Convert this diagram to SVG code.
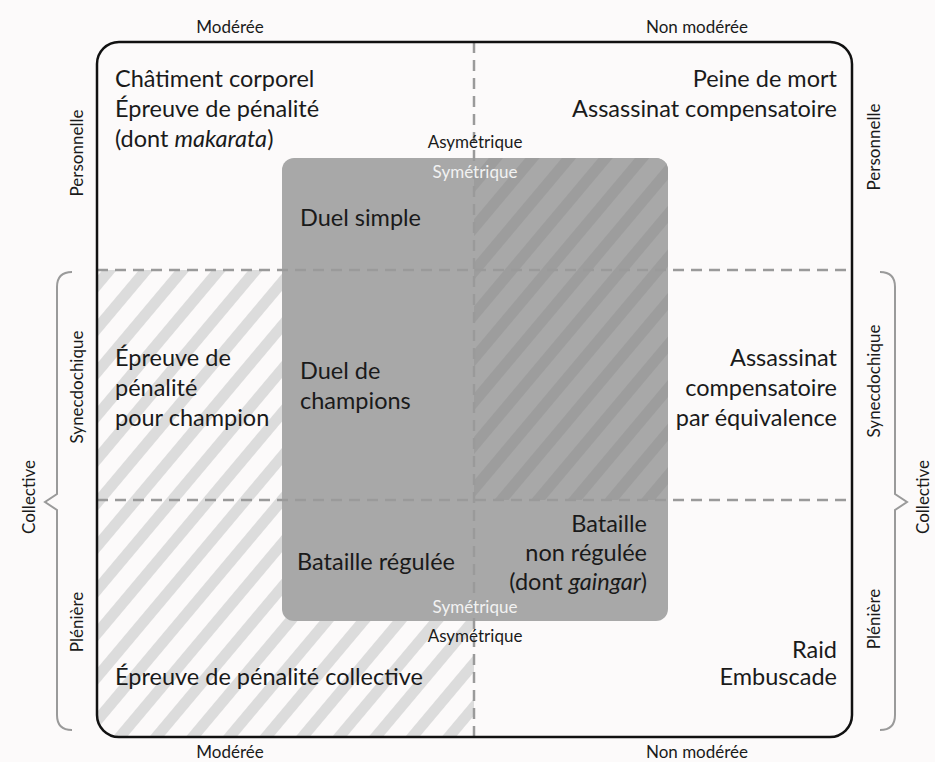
<svg xmlns="http://www.w3.org/2000/svg" width="935" height="762" viewBox="0 0 935 762">
<style>
text{font-family:Lato,"Open Sans",sans-serif;fill:#1a1a1a}
.m{font-size:23.5px}
.s{font-size:17px}
.w{fill:#f2f2f2}
.r{text-anchor:end}
.c{text-anchor:middle}
.dash{stroke:#9a9a9a;stroke-width:2.5;stroke-dasharray:11 7;fill:none}
.brace{stroke:#9a9a9a;stroke-width:2;fill:none}
</style>
<defs>
<pattern id="hatchLight" width="28" height="28" patternUnits="userSpaceOnUse" patternTransform="rotate(40)">
<rect width="28" height="28" fill="#fcfafa"/>
<rect width="11" height="28" fill="#dcdcdc"/>
</pattern>
<pattern id="hatchDark" width="28" height="28" patternUnits="userSpaceOnUse" patternTransform="rotate(40)">
<rect width="28" height="28" fill="#a8a8a8"/>
<rect width="11" height="28" fill="#9d9d9d"/>
</pattern>
<clipPath id="outerClip"><rect x="97" y="42" width="755" height="695" rx="22"/></clipPath>
<clipPath id="greyClip"><rect x="282" y="158" width="386" height="463" rx="12"/></clipPath>
</defs>
<rect width="935" height="762" fill="#fcfafa"/>
<g id="hatch-moderate-collective" clip-path="url(#outerClip)">
<rect x="97" y="270" width="377" height="467" fill="url(#hatchLight)"/>
</g>
<g id="symmetric-box">
<rect x="282" y="158" width="386" height="463" rx="12" fill="#a8a8a8"/>
<rect x="474" y="158" width="194" height="342" fill="url(#hatchDark)" clip-path="url(#greyClip)"/>
</g>
<g id="connectors">
<line class="dash" x1="97" y1="270" x2="852" y2="270"/>
<line class="dash" x1="97" y1="500" x2="852" y2="500"/>
<line class="dash" x1="474" y1="42" x2="474" y2="737"/>
<path class="brace" d="M72,272 Q57,272 57,287 V494 L45,502 L57,510 V715 Q57,730 72,730"/>
<path class="brace" d="M880,272 Q895,272 895,287 V494 L907,502 L895,510 V715 Q895,730 880,730"/>
</g>
<rect id="frame" x="97" y="42" width="755" height="695" rx="22" fill="none" stroke="#111" stroke-width="2.5"/>
<g id="axis-labels">
<text class="s c" x="230" y="33">Modérée</text>
<text class="s c" x="697" y="33">Non modérée</text>
<text class="s c" x="230" y="758">Modérée</text>
<text class="s c" x="697" y="758">Non modérée</text>
<text class="s c" transform="translate(83,153) rotate(-90)">Personnelle</text>
<text class="s c" transform="translate(880,147) rotate(-90)">Personnelle</text>
<text class="s c" transform="translate(83,387) rotate(-90)">Synecdochique</text>
<text class="s c" transform="translate(880,381) rotate(-90)">Synecdochique</text>
<text class="s c" transform="translate(83,622) rotate(-90)">Plénière</text>
<text class="s c" transform="translate(880,619) rotate(-90)">Plénière</text>
<text class="s c" transform="translate(35,497) rotate(-90)">Collective</text>
<text class="s c" transform="translate(929,497) rotate(-90)">Collective</text>
<text class="s c" x="475" y="148">Asymétrique</text>
<text class="s c w" x="475" y="178">Symétrique</text>
<text class="s c w" x="475" y="613">Symétrique</text>
<text class="s c" x="475" y="642">Asymétrique</text>
</g>
<g id="cell-personal-moderate">
<text class="m" x="115" y="87">Châtiment corporel</text>
<text class="m" x="115" y="117">Épreuve de pénalité</text>
<text class="m" x="115" y="147">(dont <tspan font-style="italic">makarata</tspan>)</text>
</g>
<g id="cell-personal-unmoderate">
<text class="m r" x="837" y="87">Peine de mort</text>
<text class="m r" x="837" y="117">Assassinat compensatoire</text>
</g>
<g id="cell-duel-simple">
<text class="m" x="300" y="226">Duel simple</text>
</g>
<g id="cell-synecdoche-moderate">
<text class="m" x="115" y="366">Épreuve de</text>
<text class="m" x="115" y="396">pénalité</text>
<text class="m" x="115" y="426">pour champion</text>
</g>
<g id="cell-duel-champions">
<text class="m" x="300" y="379">Duel de</text>
<text class="m" x="300" y="409">champions</text>
</g>
<g id="cell-synecdoche-unmoderate">
<text class="m r" x="837" y="366">Assassinat</text>
<text class="m r" x="837" y="396">compensatoire</text>
<text class="m r" x="837" y="426">par équivalence</text>
</g>
<g id="cell-battle-regulated">
<text class="m" x="297" y="570">Bataille régulée</text>
</g>
<g id="cell-battle-unregulated">
<text class="m r" x="647" y="532">Bataille</text>
<text class="m r" x="647" y="561">non régulée</text>
<text class="m r" x="647" y="590">(dont <tspan font-style="italic">gaingar</tspan>)</text>
</g>
<g id="cell-plenary-moderate">
<text class="m" x="115" y="685">Épreuve de pénalité collective</text>
</g>
<g id="cell-plenary-unmoderate">
<text class="m r" x="837" y="658">Raid</text>
<text class="m r" x="837" y="685">Embuscade</text>
</g>
</svg>
